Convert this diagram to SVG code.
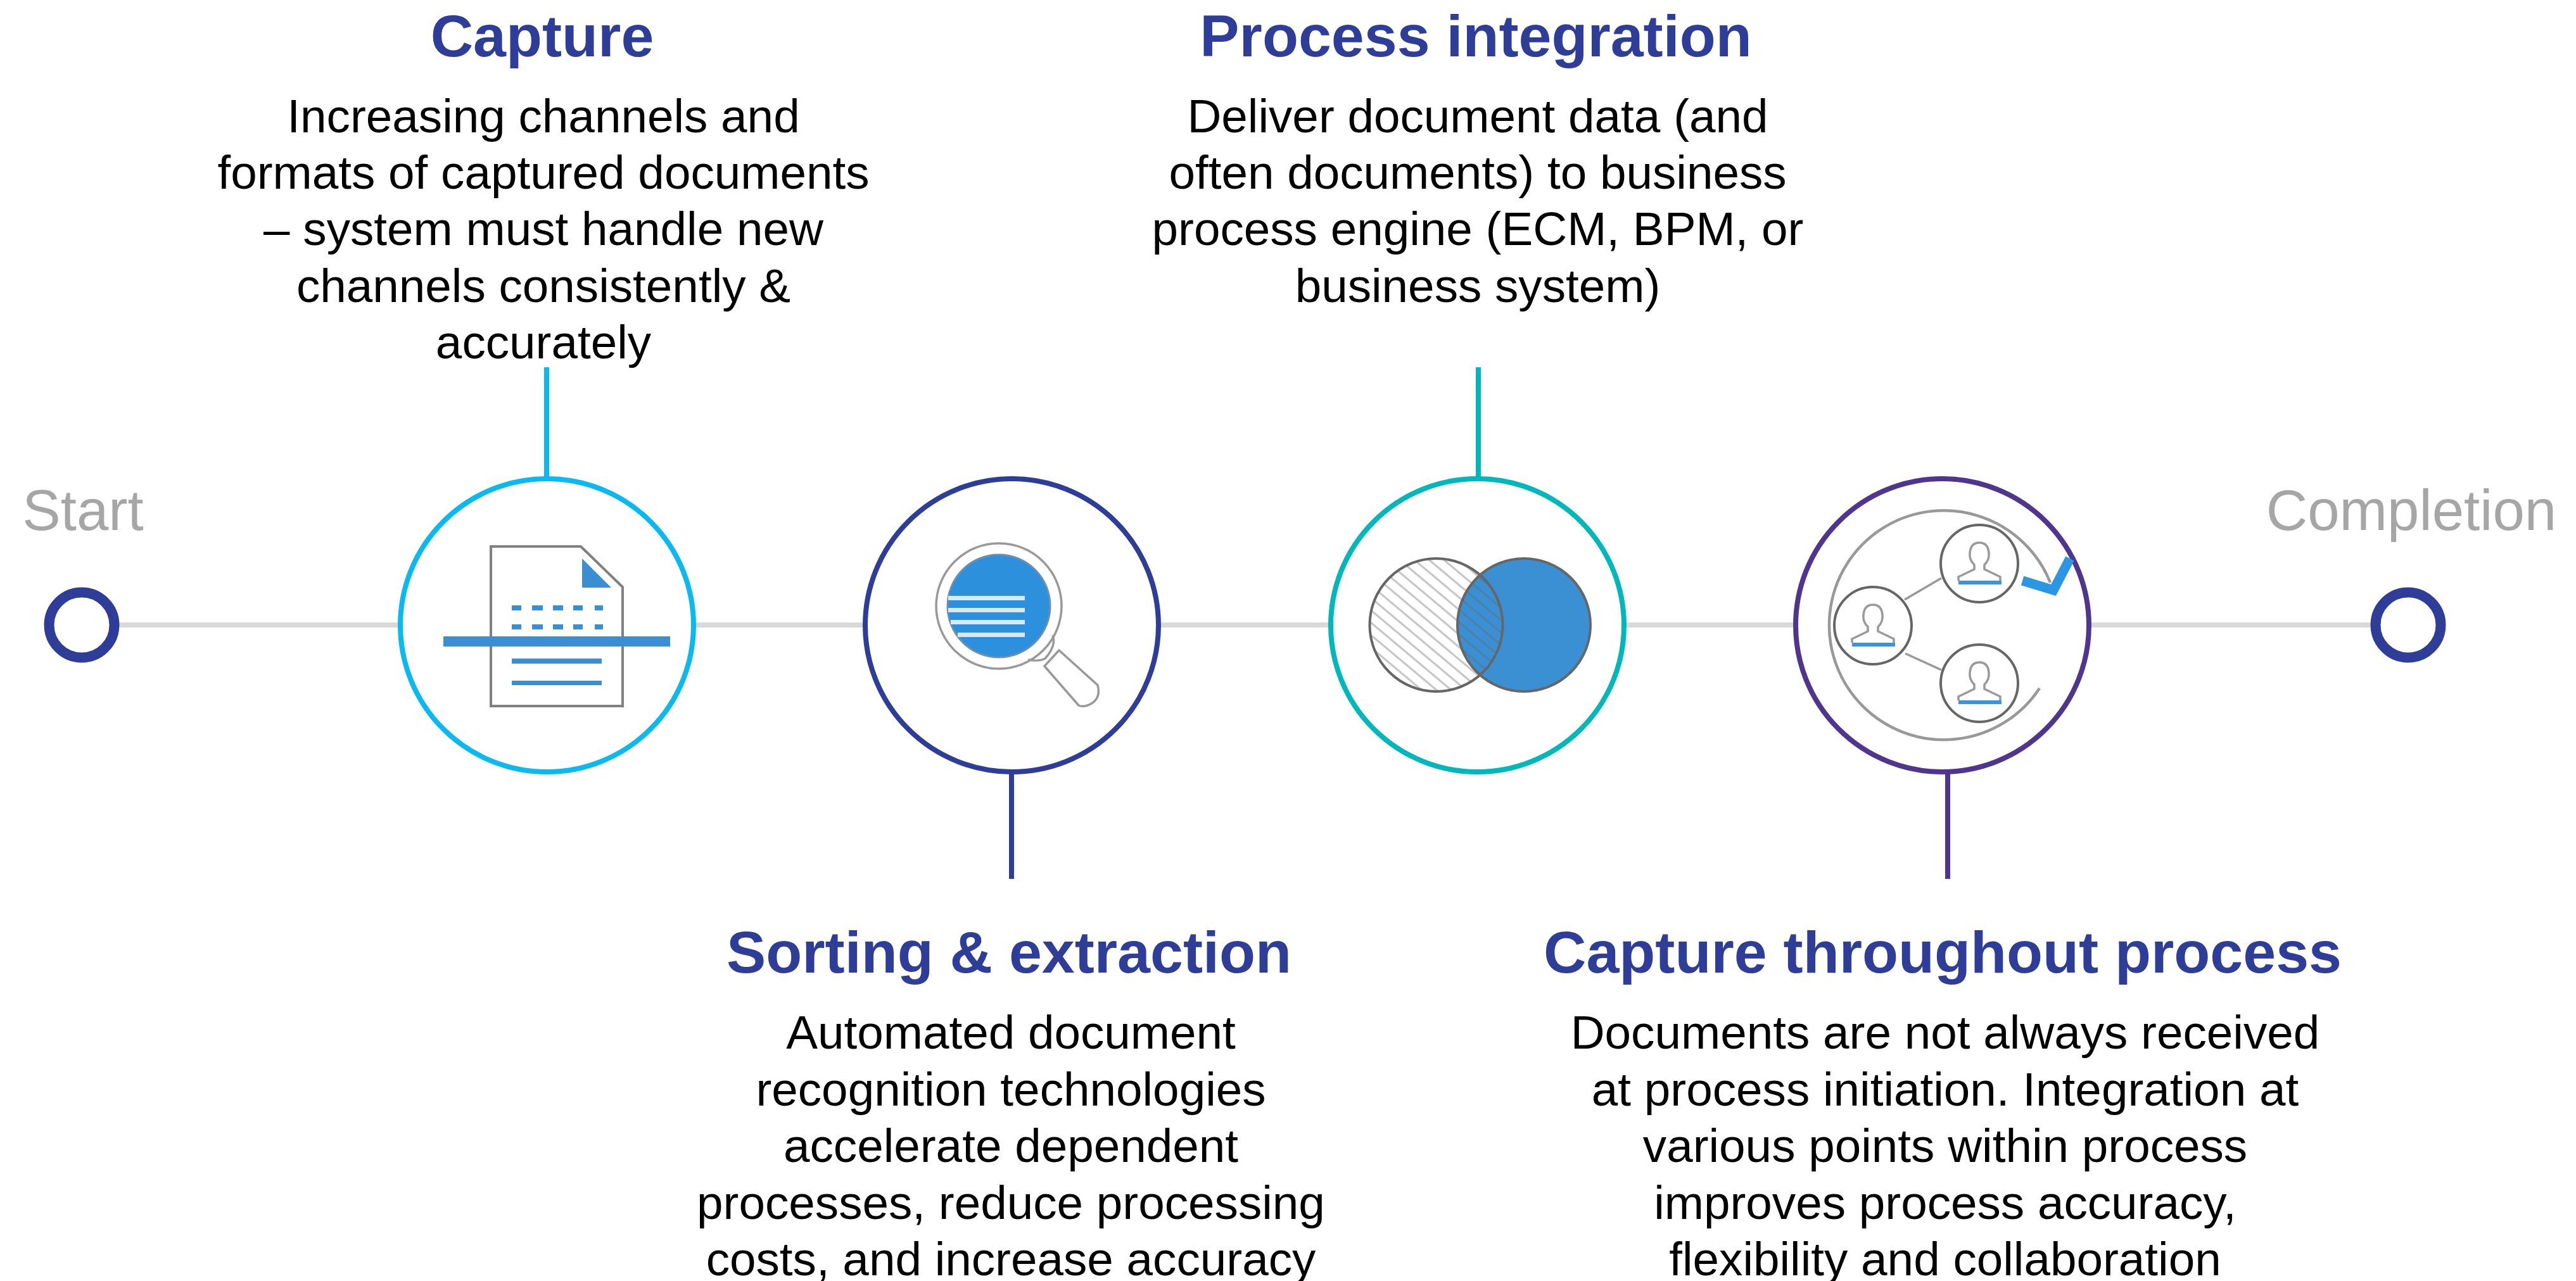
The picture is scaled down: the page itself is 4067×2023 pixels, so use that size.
<svg xmlns="http://www.w3.org/2000/svg" xmlns:xlink="http://www.w3.org/1999/xlink" width="4067" height="2023" viewBox="0 0 4067 2023">
<style>
text{font-family:"Liberation Sans",Arial,sans-serif;text-anchor:middle}
.h{font-size:93.33px;font-weight:700;fill:#2e3d98}
.b{font-size:74.67px;fill:#000}
.g{font-size:90.67px;fill:#a6a6a6}
.ring{fill:#fff;stroke-width:8}
.end{fill:#fff;stroke:#2e3d98;stroke-width:16}
.blue{fill:#3a8fd2}
.ln{fill:none;stroke:#999;stroke-width:3.5}
.dk{fill:none;stroke:#666;stroke-width:4}
.stem{stroke-width:8;fill:none}
</style>
<defs>
<pattern id="hatch" width="15" height="15" patternUnits="userSpaceOnUse" patternTransform="rotate(40)"><line x1="0" y1="7" x2="15" y2="7" stroke="#666" stroke-opacity=".4" stroke-width="3"/></pattern>
<g id="person"><path class="ln" d="M-33,27V21L-8,9V2Q-16,-6 -15,-16Q-14,-33 0,-33Q14,-33 15,-16Q16,-6 8,2V9L33,21V27"/><rect x="-33" y="27" width="68" height="6" fill="#3a96dc"/></g>
</defs>
<rect width="4067" height="2023" fill="#fff"/>
<g id="connectors">
<line x1="129" y1="987" x2="3802" y2="987" stroke="#d9d9d9" stroke-width="8"/>
<line class="stem" x1="863" y1="580" x2="863" y2="754" stroke="#0ab9ef"/>
<line class="stem" x1="1597" y1="1221" x2="1597" y2="1388" stroke="#2e3d98"/>
<line class="stem" x1="2334" y1="580" x2="2334" y2="754" stroke="#00b8bc"/>
<line class="stem" x1="3075" y1="1221" x2="3075" y2="1388" stroke="#50358f"/>
</g>
<g id="node-start">
<circle class="end" cx="129" cy="987" r="51.5"/>
<text class="g" x="131" y="837">Start</text>
</g>
<g id="node-capture">
<circle class="ring" cx="863.5" cy="987.5" r="231.5" stroke="#0ab9ef"/>
<path d="M775,863H917L983,927V1115H775Z" fill="none" stroke="#808080" stroke-width="4"/>
<path class="blue" d="M919,882V928H965Z"/>
<g class="blue">
<rect x="808" y="956" width="15" height="8"/><rect x="840" y="956" width="17" height="8"/><rect x="873" y="956" width="16" height="8"/><rect x="905" y="956" width="15" height="8"/><rect x="939" y="956" width="13" height="8"/>
<rect x="808" y="986" width="15" height="8"/><rect x="840" y="986" width="17" height="8"/><rect x="873" y="986" width="16" height="8"/><rect x="905" y="986" width="15" height="8"/><rect x="939" y="986" width="13" height="8"/>
<rect x="700" y="1005" width="358" height="16"/>
<rect x="808" y="1040" width="142" height="8"/>
<rect x="808" y="1075" width="142" height="7"/>
</g>
<text class="h" x="856" y="89">Capture</text>
<g class="b">
<text x="858" y="208.5">Increasing channels and</text>
<text x="858" y="298">formats of captured documents</text>
<text x="858" y="387">– system must handle new</text>
<text x="858" y="476.5">channels consistently &amp;</text>
<text x="858" y="566">accurately</text>
</g>
</g>
<g id="node-sorting">
<circle class="ring" cx="1597.5" cy="987.5" r="231.5" stroke="#2e3d98"/>
<circle class="ln" cx="1577" cy="957" r="99"/>
<circle cx="1577" cy="957" r="81" fill="#2d90dc" stroke="#6b8fae" stroke-width="3"/>
<g fill="#d6e9f8">
<rect x="1497" y="941" width="121" height="7"/>
<rect x="1497" y="960" width="121" height="7"/>
<rect x="1501" y="979" width="117" height="7"/>
<rect x="1512" y="999" width="106" height="7"/>
</g>
<path class="ln" d="M1662,1003Q1668,1020 1650,1040Q1640,1045 1623,1042"/>
<path class="ln" d="M1649,1052L1672,1027L1733,1082Q1738,1100 1725,1110Q1712,1118 1703,1114Z"/>
<text class="h" x="1593" y="1536">Sorting &amp; extraction</text>
<g class="b">
<text x="1596" y="1656">Automated document</text>
<text x="1596" y="1746">recognition technologies</text>
<text x="1596" y="1835">accelerate dependent</text>
<text x="1596" y="1924.5">processes, reduce processing</text>
<text x="1596" y="2014">costs, and increase accuracy</text>
</g>
</g>
<g id="node-integration">
<circle class="ring" cx="2332.5" cy="987.5" r="231.5" stroke="#00b8bc"/>
<circle cx="2406" cy="987" r="105" fill="#3a90d3"/>
<circle cx="2267.5" cy="987" r="105" fill="url(#hatch)"/>
<circle class="dk" cx="2267.5" cy="987" r="105"/>
<circle class="dk" cx="2406" cy="987" r="105"/>
<text class="h" x="2330" y="89">Process integration</text>
<g class="b">
<text x="2333" y="208.5">Deliver document data (and</text>
<text x="2333" y="298">often documents) to business</text>
<text x="2333" y="387">process engine (ECM, BPM, or</text>
<text x="2333" y="476.5">business system)</text>
</g>
</g>
<g id="node-throughout">
<circle class="ring" cx="3066.5" cy="987.5" r="231.5" stroke="#50358f"/>
<path fill="none" stroke="#999" stroke-width="4.5" d="M3237,920A181,181 0 1 0 3220,1087"/>
<line class="ln" x1="3007" y1="947" x2="3065" y2="913"/>
<line class="ln" x1="3008" y1="1032" x2="3065" y2="1058"/>
<circle class="dk" cx="3125" cy="890" r="61"/>
<circle class="dk" cx="2957" cy="988" r="61"/>
<circle class="dk" cx="3125" cy="1079" r="61"/>
<use xlink:href="#person" href="#person" x="3125" y="890"/>
<use xlink:href="#person" href="#person" x="2957" y="988"/>
<use xlink:href="#person" href="#person" x="3125" y="1079"/>
<path d="M3193,917L3242,932L3268,882" fill="none" stroke="#2d96e3" stroke-width="15"/>
<text class="h" x="3067" y="1536">Capture throughout process</text>
<g class="b">
<text x="3071" y="1656">Documents are not always received</text>
<text x="3071" y="1746">at process initiation. Integration at</text>
<text x="3071" y="1835">various points within process</text>
<text x="3071" y="1924.5">improves process accuracy,</text>
<text x="3071" y="2014">flexibility and collaboration</text>
</g>
</g>
<g id="node-completion">
<circle class="end" cx="3802" cy="987" r="51.5"/>
<text class="g" x="3807" y="837">Completion</text>
</g>
</svg>
